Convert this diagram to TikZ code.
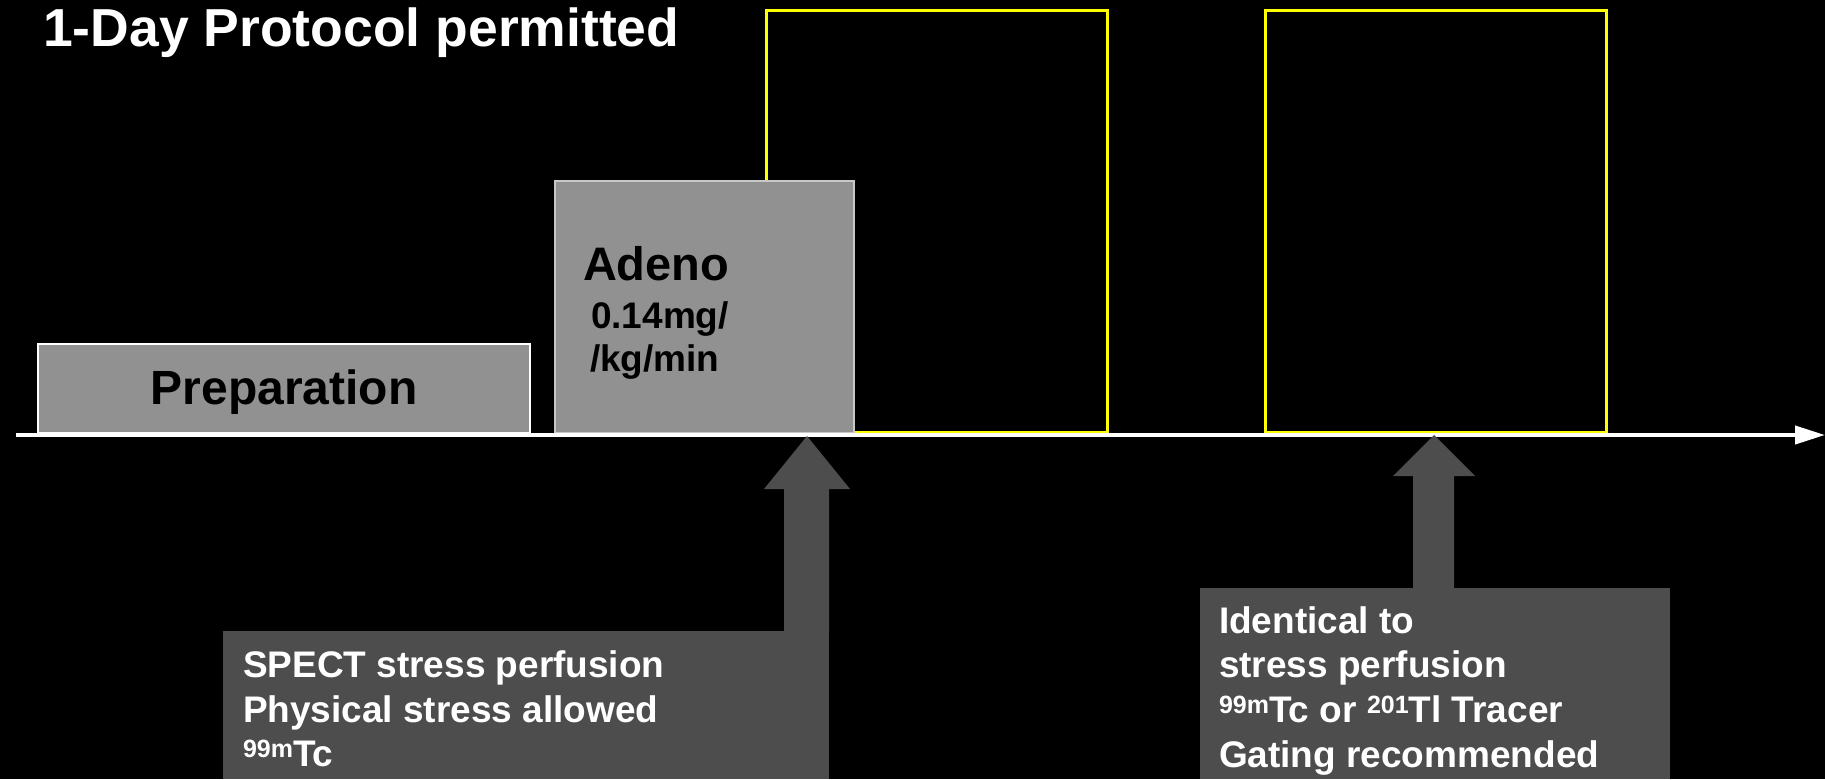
\documentclass[tikz,border=0pt]{standalone}
\usepackage{fontspec}
\setmainfont{Liberation Sans}
\usetikzlibrary{arrows.meta}
\definecolor{boxgray}{RGB}{145,145,145}
\definecolor{edgegray}{RGB}{200,200,200}
\definecolor{dkgray}{RGB}{77,77,77}
\definecolor{yel}{RGB}{255,255,0}
\newcommand\supr[1]{\raisebox{9pt}{\fontsize{25}{25}\selectfont #1}}
\begin{document}
\begin{tikzpicture}[x=1pt,y=-1pt,
  yelbox/.style={draw=yel, line width=3pt, anchor=north west, inner sep=0pt, outer sep=0pt},
  greybox/.style={fill=boxgray, line width=2.5pt, anchor=north west, inner sep=0pt, outer sep=0pt},
  darkbox/.style={fill=dkgray, anchor=north west, inner sep=0pt, outer sep=0pt},
  blockarrow/.style={fill=dkgray},
  axisline/.style={draw=white, line width=4pt, -{Triangle[width=18pt,length=30pt]}},
  lbl/.style={anchor=base west, inner sep=0pt, outer sep=0pt, font=\bfseries\fontsize{37}{37}\selectfont},
  wlbl/.style={lbl, text=white},
  blbl/.style={lbl, text=black}]
\fill[black] (0,0) rectangle (1825,779);
\useasboundingbox (0,0) rectangle (1825,779);
% title
\node[anchor=base west, inner sep=0pt, text=white, font=\bfseries\fontsize{53.5}{53.5}\selectfont] (title) at (43,46) {1-Day Protocol permitted};
% yellow windows
\node[yelbox, minimum width=341pt, minimum height=422pt] (win1) at (766,10) {};
\node[yelbox, minimum width=341pt, minimum height=422pt] (win2) at (1265,10) {};
% grey phase boxes
\node[greybox, draw=white, minimum width=492pt, minimum height=89pt] (prep) at (38,344) {};
\node[anchor=base, inner sep=0pt, font=\bfseries\fontsize{48}{48}\selectfont] (preptxt) at (284,404) {Preparation};
\node[greybox, draw=edgegray, minimum width=299pt, minimum height=252pt] (adeno) at (555,181) {};
\node[blbl, font=\bfseries\fontsize{47}{47}\selectfont] (adenotxt) at (583,280) {Adeno};
\node[blbl] (dose1) at (591,328) {0.14mg/};
\node[blbl] (dose2) at (590,371) {/kg/min};
% time axis
\coordinate (axs) at (16,435);
\coordinate (axe) at (1825,435);
\draw[axisline] (axs) -- (axe);
% info boxes
\node[darkbox, minimum width=606pt, minimum height=148pt] (box1) at (223,631) {};
\node[darkbox, minimum width=470pt, minimum height=191pt] (box2) at (1200,588) {};
% block arrows
\coordinate (t1) at (807,436);
\coordinate (t2) at (1434,435);
\fill[blockarrow] (t1) -- (850,489) -- (829,489) -- (box1.north east) -- (784,631) -- (784,489) -- (764,489) -- cycle;
\fill[blockarrow] (t2) -- (1475,476) -- (1454,476) -- (1454,588.5) -- (1413,588.5) -- (1413,476) -- (1393,476) -- cycle;
% texts of info boxes
\node[wlbl] (a1) at (243,677) {SPECT stress perfusion};
\node[wlbl] (a2) at (243,722) {Physical stress allowed};
\node[wlbl] (a3) at (243,766) {\supr{99m}Tc};
\node[wlbl] (b1) at (1219,633) {Identical to};
\node[wlbl] (b2) at (1219,677) {stress perfusion};
\node[wlbl] (b3) at (1219,722) {\supr{99m}Tc or \supr{201}Tl Tracer};
\node[wlbl] (b4) at (1219,767) {Gating recommended};
\end{tikzpicture}
\end{document}
